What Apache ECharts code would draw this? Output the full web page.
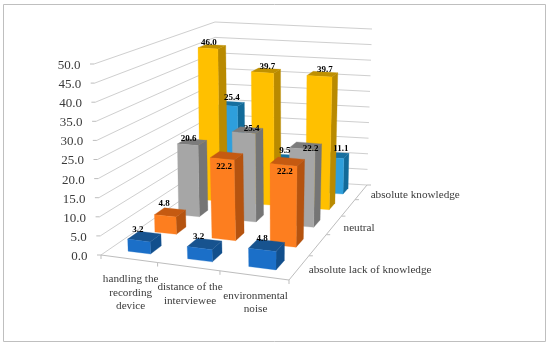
<!DOCTYPE html>
<html><head><meta charset="utf-8">
<style>html,body{margin:0;padding:0;background:#fff}#c{width:550px;height:345px}</style>
<script src="https://cdn.jsdelivr.net/npm/echarts@6/dist/echarts.min.js"></script>
</head><body><div id="c"></div>
<script>
const categories = ['handling the\nrecording\ndevice', 'distance of the\ninterviewee', 'environmental\nnoise'];
const rowNames = ['absolute lack of knowledge', '', 'neutral', '', 'absolute knowledge'];
const yTicks = [0, 5, 10, 15, 20, 25, 30, 35, 40, 45, 50];
const rowLackValues = [3.2, 3.2, 4.8];
const rowLowValues = [4.8, 22.2, 22.2];
const rowNeutralValues = [20.6, 25.4, 22.2];
const rowHighValues = [46.0, 39.7, 39.7];
const rowKnowledgeValues = [25.4, 9.5, 11.1];
const rows = [rowLackValues, rowLowValues, rowNeutralValues, rowHighValues, rowKnowledgeValues];
const palette = [
  ['#1b6fc8', '#17538f', '#124f8c'],
  ['#fd7e1f', '#c55a11', '#b5530f'],
  ['#a6a6a6', '#7c7c7c', '#757575'],
  ['#ffc000', '#bf9000', '#b98a00'],
  ['#2e9fdc', '#166f9f', '#116a99']
];
const FONT = '"Liberation Serif", serif';
const BW = 0.4, BD = 0.4, COLUMN_SHIFT = [0.012, 0.022, 0.009];

function squareToQuad(p) {
  const [x0,y0,x1,y1,x2,y2,x3,y3] = p;
  const dx1=x1-x2, dx2=x3-x2, sx=x0-x1+x2-x3, dy1=y1-y2, dy2=y3-y2, sy=y0-y1+y2-y3;
  const d=dx1*dy2-dx2*dy1, g=(sx*dy2-dx2*sy)/d, h=(dx1*sy-sx*dy1)/d;
  const a=x1-x0+g*x1, b=x3-x0+h*x3, c=x0, e=y1-y0+g*y1, f=y3-y0+h*y3, i=y0;
  return (u,w)=>{const t=g*u+h*w+1;return [(a*u+b*w+c)/t,(e*u+f*w+i)/t];};
}
const floorH = squareToQuad([101,255, 289,280, 367,185, 216,176]);
const topH = squareToQuad([94,64, 291.4,86, 372,29, 215,22]);
function P(u, v, w) {
  const a = floorH(u, w), b = topH(u, w);
  return [a[0]+(b[0]-a[0])*v, a[1]+(b[1]-a[1])*v];
}
const quad = (pts, fill) => ({type:'polygon', shape:{points:pts}, style:{fill, stroke:fill, lineWidth:0.3}});
const seg = (a, b, stroke) => ({type:'line', shape:{x1:a[0],y1:a[1],x2:b[0],y2:b[1]}, style:{stroke, lineWidth:1}, silent:true});
const txt = (x, y, text, o) => ({type:'text', x, y, z2:o.z2||1, style:Object.assign({text, fontFamily:FONT, fill:'#3a3a3a', fontSize:11.2}, o)});

function unit(params, api, i, val) {
  const s = params.coordSys, c = api.coord([i, val]);
  return {u:(c[0]-s.x)/s.width, v:(s.y+s.height-c[1])/s.height};
}

const labelNudge = {'0,0':[-1,-11], '0,1':[-1,-11], '0,2':[0,-11], '1,0':[-1,-12], '1,1':[2,8], '1,2':[1.5,7],
  '2,0':[1,-6], '2,1':[8,-4], '2,2':[8.5,0], '3,0':[1,-6], '3,1':[5,-6], '3,2':[5.5,-7], '4,0':[4,-8], '4,1':[5,-9], '4,2':[8.5,-9]};

function barSeries(rowIdx) {
  return {
    type:'custom', name:rowNames[rowIdx]||('row'+rowIdx), coordinateSystem:'cartesian2d', clip:false,
    data: rows[rowIdx].map((v,i)=>[i,v]),
    renderItem(params, api) {
      const i = api.value(0), val = api.value(1);
      const {u:uc, v} = unit(params, api, i, val);
      const u = uc + COLUMN_SHIFT[i];
      const cw = 1/categories.length, cd = 1/rows.length;
      const u0=u-cw*BW/2, u1=u+cw*BW/2, wc=(rowIdx+.5)*cd, w0=wc-cd*BD/2, w1=wc+cd*BD/2;
      const col = palette[rowIdx];
      const lab = P(u, v, w0), n = labelNudge[rowIdx+','+i];
      return {type:'group', children:[
        quad([P(u1,0,w0),P(u1,0,w1),P(u1,v,w1),P(u1,v,w0)], col[2]),
        quad([P(u0,v,w0),P(u1,v,w0),P(u1,v,w1),P(u0,v,w1)], col[1]),
        quad([P(u0,0,w0),P(u1,0,w0),P(u1,v,w0),P(u0,v,w0)], col[0]),
        txt(lab[0]+n[0], lab[1]+n[1], val.toFixed(1), {z2:100, fontSize:9, fontWeight:'bold', fill:'#000', align:'center', verticalAlign:'middle'})
      ]};
    }
  };
}

const wallSeries = {
  type:'custom', coordinateSystem:'cartesian2d', clip:false, silent:true,
  data: yTicks.map(t=>[0,t]),
  renderItem(params, api) {
    const t = api.value(1), {v} = unit(params, api, 0, t);
    const ch = [seg(P(0,v,0),P(0,v,1),'#cfcfcf'), seg(P(0,v,1),P(1,v,1),'#cfcfcf')];
    const a = P(0,v,0);
    ch.push(seg(a,[a[0]-4,a[1]],'#bdbdbd'));
    ch.push(txt(a[0]-13.5, a[1]+1.5, t.toFixed(1), {fontSize:13, align:'right', verticalAlign:'middle'}));
    return {type:'group', children:ch};
  }
};

const axisSeries = {
  type:'custom', coordinateSystem:'cartesian2d', clip:false, silent:true,
  data: categories.map((c,i)=>[i,0]),
  renderItem(params, api) {
    const i = api.value(0), {u} = unit(params, api, i, 0);
    const cw = 1/categories.length, ch = [];
    const p = P(u,0,0), e = P(u+cw/2,0,0), s = P(u-cw/2,0,0);
    ch.push(seg(s,e,'#bdbdbd'), seg(e,[e[0],e[1]+4],'#bdbdbd'));
    if (i===0) ch.push(seg(s,[s[0],s[1]+4],'#bdbdbd'));
    ch.push(txt(p[0]+2, p[1]+14, categories[i], {z2:50, align:'center', verticalAlign:'top', lineHeight:13.5}));
    return {type:'group', children:ch};
  }
};

const depthSeries = {
  type:'custom', coordinateSystem:'cartesian2d', clip:false, silent:true,
  data: rowNames.map((n,i)=>[0,i]),
  renderItem(params, api) {
    const r = api.value(1), cd = 1/rows.length, ch = [];
    const w0=r*cd, w1=(r+1)*cd;
    ch.push(seg(P(1,0,w0),P(1,0,w1),'#bdbdbd'));
    const e = P(1,0,w1);
    ch.push(seg(e,[e[0]+4,e[1]],'#bdbdbd'));
    if (rowNames[r]) {
      const p = P(1,0,(r+.5)*cd);
      ch.push(txt(p[0]+9.5, p[1]+3, rowNames[r], {z2:50, align:'left', verticalAlign:'middle'}));
    }
    return {type:'group', children:ch};
  }
};

const chart = echarts.init(document.getElementById('c'), null, {renderer:'canvas'});
chart.setOption({
  animation:false,
  backgroundColor:'#fff',
  grid:{show:true, left:3.5, top:4.5, width:542, height:337, borderColor:'#bfbfbf', borderWidth:1, backgroundColor:'#fff'},
  xAxis:{type:'category', data:categories, show:false},
  yAxis:{type:'value', min:0, max:50, interval:5, show:false},
  series:[wallSeries, axisSeries, depthSeries, barSeries(4), barSeries(3), barSeries(2), barSeries(1), barSeries(0)]
});
</script></body></html>
